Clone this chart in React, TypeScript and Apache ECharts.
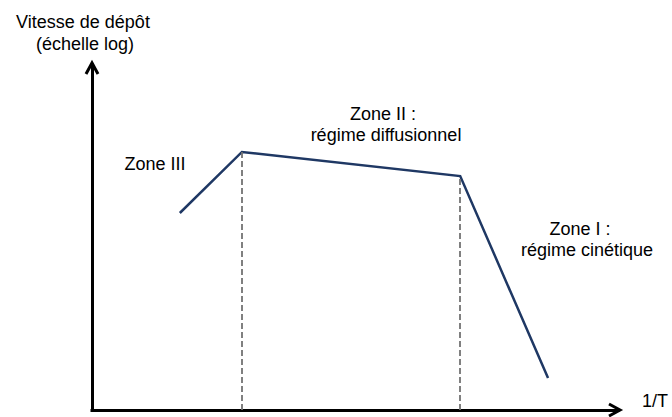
import React, { useEffect, useRef } from "react";
import * as echarts from "echarts";

// Conceptual curve: deposition rate (log scale) vs 1/T, arbitrary units
const curveX = [1.67, 2.85, 7.0, 8.67];
const curveY = [5.71, 7.48, 6.78, 0.93];
// Zone boundaries (dashed lines) at the two break points
const boundaryIdx = [1, 2];

const yTitle = ["Vitesse de dépôt", "(échelle log)"];
const xTitle = "1/T";
const zoneLabels = ["Zone III", "Zone II :", "régime diffusionnel", "Zone I :", "régime cinétique"];

const AXIS_MAX = 10;
const FONT = "18px 'Liberation Sans', Arial, sans-serif";

export default function App() {
  const ref = useRef<HTMLDivElement>(null);
  useEffect(() => {
    if (!ref.current) return;
    const chart = echarts.init(ref.current, null, { renderer: "svg" });
    const axisCommon = {
      type: "value" as const,
      min: 0,
      max: AXIS_MAX,
      axisTick: { show: false },
      axisLabel: { show: false },
      splitLine: { show: false },
      axisLine: {
        show: true,
        symbol: ["none", "none"],
        lineStyle: { color: "#000", width: 3, cap: "square" as const },
      },
    };
    const text = (t: string, x: number, y: number) => ({
      type: "text",
      x,
      y,
      silent: true,
      style: { text: t, font: FONT, fill: "#000", align: "center", verticalAlign: "middle" },
    });
    chart.setOption({
      animation: false,
      backgroundColor: "#fff",
      grid: { left: 92, top: 65, width: 526, height: 345 },
      xAxis: { ...axisCommon },
      yAxis: { ...axisCommon },
      series: [
        {
          type: "line",
          data: curveX.map((x, i) => [x, curveY[i]]),
          showSymbol: false,
          symbol: "none",
          lineStyle: { color: "#1f3864", width: 2.5, join: "miter" },
          z: 3,
          markLine: {
            silent: true,
            symbol: ["none", "none"],
            label: { show: false },
            lineStyle: { color: "#737373", width: 1.8, type: [6, 3] },
            data: boundaryIdx.map((i) => [
              { coord: [curveX[i], 0] },
              { coord: [curveX[i], curveY[i]] },
            ]),
          },
        },
      ],
    });
    const xEnd = chart.convertToPixel({ gridIndex: 0 }, [AXIS_MAX, 0]) as number[];
    const yEnd = chart.convertToPixel({ gridIndex: 0 }, [0, AXIS_MAX]) as number[];
    const arrowStyle = { stroke: "#000", lineWidth: 3, fill: "none", lineJoin: "miter" as const };
    const xt = [xEnd[0] + 2, xEnd[1]];
    const yt = [yEnd[0], yEnd[1] - 2];
    chart.setOption({
      graphic: [
        text(yTitle[0], 83, 21.5),
        text(yTitle[1], 85, 44),
        text(zoneLabels[0], 155, 163.5),
        text(zoneLabels[1], 383, 113.5),
        text(zoneLabels[2], 386, 135),
        text(zoneLabels[3], 580, 228.5),
        text(zoneLabels[4], 587, 250),
        text(xTitle, 655, 401),
        {
          type: "polyline",
          silent: true,
          z: 10,
          shape: { points: [[xt[0] - 11, xt[1] - 6], xt, [xt[0] - 11, xt[1] + 6]] },
          style: arrowStyle,
        },
        {
          type: "polyline",
          silent: true,
          z: 10,
          shape: { points: [[yt[0] - 6, yt[1] + 11], yt, [yt[0] + 6, yt[1] + 11]] },
          style: arrowStyle,
        },
      ],
    });
    return () => chart.dispose();
  }, []);
  return (
    <div
      ref={ref}
      style={{ position: "absolute", left: 0, top: 0, width: 672, height: 417, background: "#fff" }}
    />
  );
}
